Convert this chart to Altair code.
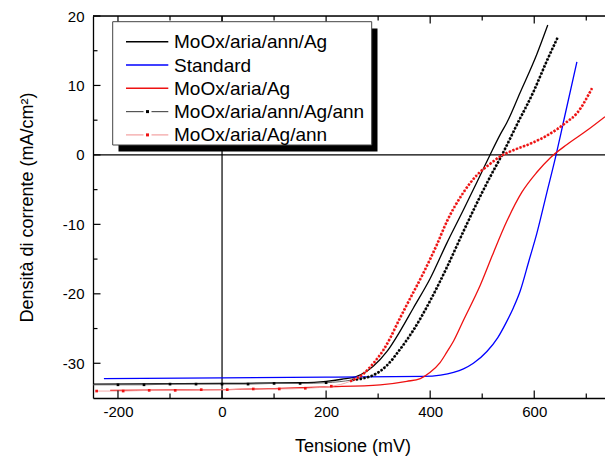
import altair as alt
import pandas as pd

# ---------------- data ----------------
names = ["MoOx/aria/ann/Ag", "Standard", "MoOx/aria/Ag",
         "MoOx/aria/ann/Ag/ann", "MoOx/aria/Ag/ann"]

# MoOx/aria/ann/Ag (black solid)
bk_x = [-248, 0, 150, 200, 230, 259, 291, 317, 342, 368, 400, 432, 464, 490, 515, 535, 547, 573, 605, 626]
bk_y = [-33.0, -32.9, -32.8, -32.6, -32.3, -31.9, -30.4, -28.3, -25.4, -22.0, -17.8, -12.7, -7.9, -3.9, 0.0, 3.0, 4.6, 9.0, 14.5, 18.7]

# Standard (blue)
bl_x = [-227, 0, 200, 387, 420, 445, 464, 483, 509, 530, 547, 560, 573, 590, 605, 624, 642, 656, 682]
bl_y = [-32.2, -32.1, -32.0, -31.9, -31.7, -31.3, -30.8, -30.0, -28.3, -26.3, -24.0, -22.0, -19.6, -15.2, -11.3, -5.5, 0.0, 4.7, 13.4]

# MoOx/aria/Ag (red solid)
rd_x = [-215, 0, 111, 200, 304, 355, 381, 400, 419, 432, 445, 464, 496, 522, 547, 576, 605, 631, 663, 701, 736]
rd_y = [-33.9, -33.8, -33.6, -33.4, -33.1, -32.6, -32.2, -31.3, -29.9, -28.4, -26.8, -23.8, -18.8, -14.0, -9.6, -5.4, -2.5, -0.4, 1.5, 3.5, 5.5]

# MoOx/aria/ann/Ag/ann (black dotted)
bd_x = [-248, -200, -150, -100, -50, 0, 50, 100, 150, 200, 250, 291, 317, 342, 368, 400, 432, 464, 490, 515, 538, 567, 598, 624, 645]
bd_y = [-33.1, -33.1, -33.1, -33.0, -33.0, -33.0, -33.0, -32.9, -32.9, -32.8, -32.4, -31.7, -30.3, -28.0, -25.2, -21.0, -16.2, -11.0, -6.9, -3.2, 0.0, 4.4, 9.0, 13.5, 16.9]

# MoOx/aria/Ag/ann (red dotted)
rdd_x = [-241, -190, -140, -90, -40, 10, 60, 110, 160, 210, 246, 272, 291, 310, 323, 336, 355, 387, 400, 413, 432,
         464, 490, 515, 535, 554, 592, 620, 644, 660, 682, 711]
rdd_y = [-34.0, -34.0, -33.9, -33.9, -33.8, -33.8, -33.7, -33.7, -33.6, -33.3, -32.6, -31.5, -30.0, -28.1, -26.4,
         -24.4, -21.6, -17.0, -15.0, -12.9, -9.6, -5.4, -2.9, -1.3, -0.2, 0.5, 1.6, 2.6, 3.7, 4.6, 6.0, 9.6]

x_major = [-200, 0, 200, 400, 600]
x_minor = [-100, 100, 300, 500, 700]
y_major = [-30, -20, -10, 0, 10, 20]
y_minor = [-25, -15, -5, 5, 15]

# ---------------- chart ----------------
W, H = 512, 382
FONT = "Liberation Sans"
BLACK, BLUE, RED = "#000000", "#0000ff", "#ee1111"

xs = alt.Scale(domain=[-248, 736], nice=False, zero=False)
ys = alt.Scale(domain=[-35, 20], nice=False, zero=False)

x_axis = alt.Axis(values=x_major, title="Tensione (mV)", ticks=False, tickSize=0,
                  grid=False, domainColor=BLACK, domainWidth=1.3, labelFontSize=15,
                  labelPadding=6, labelExpr="'' + datum.value", titleFontSize=18,
                  titleFontWeight="normal", titlePadding=18, titleX=259.5,
                  labelFont=FONT, titleFont=FONT, labelColor=BLACK, titleColor=BLACK)
y_axis = alt.Axis(values=y_major, title="Densità di corrente (mA/cm²)", ticks=False,
                  tickSize=0, grid=False, domainColor=BLACK, domainWidth=1.3,
                  labelFontSize=15, labelPadding=9, labelExpr="'' + datum.value",
                  titleFontSize=18, titleFontWeight="normal", titlePadding=26,
                  labelFont=FONT, titleFont=FONT, labelColor=BLACK, titleColor=BLACK)


def df(xv, yv):
    return pd.DataFrame({"x": xv, "y": yv})


def X():
    return alt.X("x:Q", scale=xs, axis=x_axis)


def Y():
    return alt.Y("y:Q", scale=ys, axis=y_axis)


one = pd.DataFrame({"k": [0]})

# axis carrier (invisible)
base = alt.Chart(df([-248, 736], [-35, 20])).mark_point(opacity=0).encode(x=X(), y=Y())

# zero lines
zero_v = alt.Chart(pd.DataFrame({"x": [0]})).mark_rule(color=BLACK, strokeWidth=1.2).encode(x=X())
zero_h = alt.Chart(pd.DataFrame({"y": [0]})).mark_rule(color=BLACK, strokeWidth=1.2).encode(y=Y())

# top frame line
top_line = alt.Chart(one).mark_rule(color=BLACK, strokeWidth=1.3).encode(
    x=alt.value(0), x2=alt.value(W), y=alt.value(0))

# inward ticks
tick_layers = [
    alt.Chart(pd.DataFrame({"x": x_major})).mark_rule(color=BLACK, strokeWidth=1.2).encode(
        x=X(), y=alt.value(H), y2=alt.value(H - 7.5)),
    alt.Chart(pd.DataFrame({"x": x_minor})).mark_rule(color=BLACK, strokeWidth=1.2).encode(
        x=X(), y=alt.value(H), y2=alt.value(H - 4.5)),
    alt.Chart(pd.DataFrame({"x": x_major})).mark_rule(color=BLACK, strokeWidth=1.2).encode(
        x=X(), y=alt.value(0), y2=alt.value(7.5)),
    alt.Chart(pd.DataFrame({"x": x_minor})).mark_rule(color=BLACK, strokeWidth=1.2).encode(
        x=X(), y=alt.value(0), y2=alt.value(4.5)),
    alt.Chart(pd.DataFrame({"y": y_major})).mark_rule(color=BLACK, strokeWidth=1.2).encode(
        y=Y(), x=alt.value(0), x2=alt.value(7.5)),
    alt.Chart(pd.DataFrame({"y": y_minor})).mark_rule(color=BLACK, strokeWidth=1.2).encode(
        y=Y(), x=alt.value(0), x2=alt.value(4.5)),
]


def solid(xv, yv, color):
    return alt.Chart(df(xv, yv)).mark_line(color=color, strokeWidth=1.3, interpolate="monotone",
                                            clip=True).encode(x=X(), y=Y())


def dotted(xv, yv, dot_color, thin_color, start):
    d = df(xv, yv)
    thin = alt.Chart(d).mark_line(color=thin_color, strokeWidth=0.9, interpolate="monotone",
                                  clip=True).encode(x=X(), y=Y())
    marks = alt.Chart(d).transform_filter(
        f"datum.x > -245 && datum.x < {start}").mark_square(
        color=dot_color, size=7, opacity=1, clip=True).encode(x=X(), y=Y())
    dots = alt.Chart(d).transform_filter(f"datum.x >= {start}").mark_line(
        color=dot_color, strokeWidth=2.6, strokeDash=[2.2, 1.6], strokeCap="butt",
        interpolate="monotone", clip=True).encode(x=X(), y=Y())
    return [thin, marks, dots]


curves = [
    solid(bk_x, bk_y, BLACK),
    solid(bl_x, bl_y, BLUE),
    solid(rd_x, rd_y, RED),
    *dotted(bd_x, bd_y, BLACK, "#555555", 240),
    *dotted(rdd_x, rdd_y, RED, "#f2a0a0", 230),
]

# legend (drawn by hand, with shadow)
leg = [
    alt.Chart(one).mark_rect(color=BLACK).encode(
        x=alt.value(25.5), x2=alt.value(284.5), y=alt.value(12.5), y2=alt.value(135.5)),
    alt.Chart(one).mark_rect(fill="white", stroke="#444444", strokeWidth=1).encode(
        x=alt.value(19.7), x2=alt.value(278.7), y=alt.value(5.7), y2=alt.value(129)),
]
styles = [(BLACK, None), (BLUE, None), (RED, None), (BLACK, "#555555"), (RED, "#f2a0a0")]
for i, (nm, (c, thin)) in enumerate(zip(names, styles)):
    yy = 25.7 + 23.3 * i
    if thin is None:
        leg.append(alt.Chart(one).mark_rule(color=c, strokeWidth=1.4).encode(
            x=alt.value(33), x2=alt.value(75.3), y=alt.value(yy)))
    else:
        leg.append(alt.Chart(one).mark_rule(color=thin, strokeWidth=1.2).encode(
            x=alt.value(33), x2=alt.value(50.5), y=alt.value(yy)))
        leg.append(alt.Chart(one).mark_rule(color=thin, strokeWidth=1.2).encode(
            x=alt.value(58.5), x2=alt.value(75.3), y=alt.value(yy)))
        leg.append(alt.Chart(one).mark_square(color=c, size=9, opacity=1).encode(
            x=alt.value(54.5), y=alt.value(yy)))
    leg.append(alt.Chart(one).mark_text(align="left", baseline="middle", fontSize=19,
                                        font=FONT, color=BLACK).encode(
        x=alt.value(81), y=alt.value(yy + 0.5), text=alt.value(nm)))

chart = alt.layer(base, zero_v, zero_h, *curves, top_line, *tick_layers, *leg).properties(
    width=W, height=H,
    autosize=alt.AutoSizeParams(type="none"),
    padding={"left": 93, "top": 16, "right": 0, "bottom": 58},
).configure_view(stroke=None).configure(background="white")

chart.save("out.html", embed_options={"renderer": "svg", "actions": False})
